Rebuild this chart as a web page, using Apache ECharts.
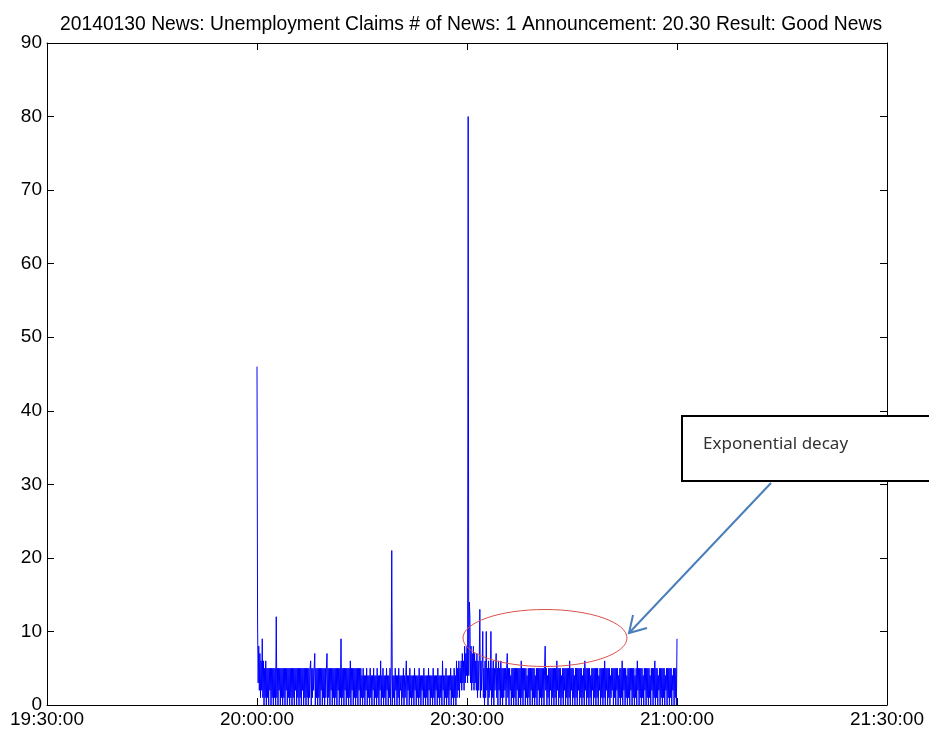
<!DOCTYPE html>
<html>
<head>
<meta charset="utf-8">
<title>Unemployment Claims news</title>
<script src="https://cdn.jsdelivr.net/npm/echarts@6/dist/echarts.min.js"></script>
<style>
  html, body { margin: 0; padding: 0; background: #fff; }
  #chart { width: 929px; height: 731px; }
</style>
</head>
<body>
<div id="chart"></div>
<script>
// news count per 5 s, starting 20:00:00, one row = 5 minutes
const startSec = 20 * 3600;
const stepSec = 5;
const row0 = [46,11,3,8,2,7,1,6,2,9, 1,6,0,5,1,6,0,5,1,5, 0,5,2,5,0,5,1,5,0,5, 1,5,0,12,1,5,0,5,2,5, 0,5,1,5,0,5,1,5,0,5, 2,5,0,5,1,5,0,5,1,5];
const row1 = [0,5,1,5,0,5,2,5,0,5, 1,5,0,5,1,5,0,5,2,5, 0,5,1,5,0,5,1,5,0,5, 1,5,6,0,5,1,5,2,5,7, 0,5,1,5,0,5,1,5,0,5, 2,5,0,5,1,5,0,5,1,5];
const row2 = [7,0,5,1,5,0,5,2,5,0, 5,1,5,0,5,1,5,0,5,2, 5,0,5,1,9,0,5,1,5,0, 5,2,5,0,5,1,5,0,5,1, 6,0,5,2,5,0,5,1,5,0, 5,1,5,0,5,2,5,0,5,1];
const row3 = [4,0,5,1,4,0,4,2,5,0, 4,1,4,0,5,1,4,0,4,2, 5,0,4,1,4,0,5,1,4,0, 4,2,6,0,4,1,5,0,4,1, 4,0,5,2,4,0,4,1,5,0, 4,21,0,4,1,4,0,5,2,4];
const row4 = [0,4,1,5,0,4,2,4,0,4, 1,5,0,4,1,4,6,0,4,2, 4,0,5,1,4,0,4,1,4,0, 5,2,4,0,4,1,4,0,5,1, 4,0,4,2,4,0,5,1,4,0, 4,1,4,0,5,2,4,0,4,1];
const row5 = [4,0,5,1,4,0,4,2,4,0, 5,1,4,0,4,1,4,0,6,2, 4,0,4,1,5,0,4,1,4,0, 4,2,5,0,4,1,4,0,5,1, 4,0,6,1,5,2,6,1,5,3, 6,2,7,3,6,2,8,3,7,4];
const row6 = [8,3,80,4,14,12,3,8,2,7, 3,8,2,7,3,6,2,7,1,6, 2,6,13,1,6,2,5,10,1,5, 0,6,1,10,2,5,0,6,1,5, 2,10,0,5,1,6,0,5,2,5, 7,1,5,0,6,2,5,0,6,1];
const row7 = [5,0,5,1,5,2,5,0,5,7, 1,5,0,5,2,4,0,5,1,5, 0,5,1,5,0,5,2,5,0,5, 1,5,0,6,1,5,0,5,2,5, 0,5,1,4,0,5,1,5,0,5, 2,5,0,5,1,5,0,4,1,5];
const row8 = [0,5,2,5,0,5,1,5,0,5, 1,5,0,5,8,2,5,0,4,1, 5,0,5,2,5,0,5,1,5,0, 5,1,5,0,6,2,5,0,5,1, 5,0,4,1,5,0,5,2,5,0, 5,1,5,0,5,1,6,0,5,2];
const row9 = [5,0,5,1,4,0,5,1,5,0, 5,2,5,0,5,1,5,0,4,1, 5,0,6,2,5,0,5,1,5,0, 5,1,4,0,5,2,5,0,5,1, 5,0,5,1,5,0,4,2,5,0, 5,1,5,0,5,1,6,0,5,2];
const row10 = [5,0,5,1,5,0,4,1,5,2, 5,0,5,1,5,0,5,2,5,0, 4,1,5,0,5,1,6,0,5,2, 5,0,5,1,4,0,5,1,5,0, 5,2,5,0,5,1,5,0,4,1, 5,0,6,2,5,0,5,1,5,0];
const row11 = [5,1,4,0,5,2,5,0,5,1, 5,0,5,1,4,0,5,2,5,0, 5,1,6,0,5,1,5,0,4,2, 5,0,5,1,5,0,5,1,5,0, 4,2,5,0,5,1,5,0,5,1, 5,0,4,2,5,0,5,1,5,0];
const row12 = [9];
const counts = [].concat(row0, row1, row2, row3, row4, row5, row6, row7, row8, row9, row10, row11, row12);

const xMin = 19.5 * 3600, xMax = 21.5 * 3600, xStep = 1800;
const yMin = 0, yMax = 90, yStep = 10;

const titleText = '20140130 News: Unemployment Claims # of News: 1 Announcement: 20.30 Result: Good News';
const noteText = 'Exponential decay';

function pad(n) { return (n < 10 ? '0' : '') + n; }
function fmtTime(v) {
  let h = Math.floor(v / 3600), m = Math.floor((v % 3600) / 60), s = Math.round(v % 60);
  return h + ':' + pad(m) + ':' + pad(s);
}

let myChart = echarts.init(document.getElementById('chart'));
const seriesData = counts.map((v, i) => [startSec + i * stepSec, v]);
const axisFont = { color: '#000', fontSize: 19, fontFamily: 'Liberation Sans, Arial, sans-serif' };

function xAx(pos, showLabel) {
  return {
    type: 'value', position: pos, min: xMin, max: xMax, interval: xStep,
    axisLine: { show: true, onZero: false, lineStyle: { color: '#000', width: 1 } },
    axisTick: { show: true, inside: true, length: 7, lineStyle: { color: '#000' } },
    axisLabel: Object.assign({ show: showLabel, margin: 5, formatter: fmtTime, showMinLabel: true, showMaxLabel: true }, axisFont),
    splitLine: { show: false }
  };
}
function yAx(pos, showLabel) {
  return {
    type: 'value', position: pos, min: yMin, max: yMax, interval: yStep,
    axisLine: { show: true, onZero: false, lineStyle: { color: '#000', width: 1 } },
    axisTick: { show: true, inside: true, length: 7, lineStyle: { color: '#000' } },
    axisLabel: Object.assign({ show: showLabel, margin: 5 }, axisFont),
    splitLine: { show: false }
  };
}

let option = {
  backgroundColor: '#fff',
  animation: false,
  title: {
    text: titleText, left: 55, top: 10,
    textStyle: { color: '#000', fontSize: 19.3, fontWeight: 'normal', fontFamily: 'Liberation Sans, Arial, sans-serif' }
  },
  grid: { left: 47, right: 42, top: 43, bottom: 26, containLabel: false },
  xAxis: [xAx('bottom', true), xAx('top', false)],
  yAxis: [yAx('left', true), yAx('right', false)],
  series: [
    {
      type: 'line',
      data: seriesData,
      showSymbol: false,
      symbol: 'none',
      lineStyle: { color: '#0000ff', width: 1 },
      clip: true
    }
  ],
  graphic: [
    {
      type: 'ellipse', z: 100,
      shape: { cx: 545, cy: 638, rx: 82, ry: 28.5 },
      style: { fill: 'none', stroke: '#d9534f', lineWidth: 1 }
    },
    {
      type: 'polyline', z: 100,
      shape: { points: [[771, 483], [629, 633]] },
      style: { stroke: '#4a7ebb', lineWidth: 2, fill: 'none' }
    },
    {
      type: 'polyline', z: 100,
      shape: { points: [[633, 615], [629, 633], [647, 628]] },
      style: { stroke: '#4a7ebb', lineWidth: 2, fill: 'none' }
    },
    {
      type: 'rect', z: 110,
      shape: { x: 682, y: 416, width: 260, height: 65 },
      style: { fill: '#fff', stroke: '#000', lineWidth: 2 }
    },
    {
      type: 'text', z: 111, x: 703, y: 444,
      style: { text: noteText, fill: '#333', fontSize: 17, fontFamily: 'Noto Sans, sans-serif', verticalAlign: 'middle' }
    }
  ]
};

myChart.setOption(option);
</script>
</body>
</html>
